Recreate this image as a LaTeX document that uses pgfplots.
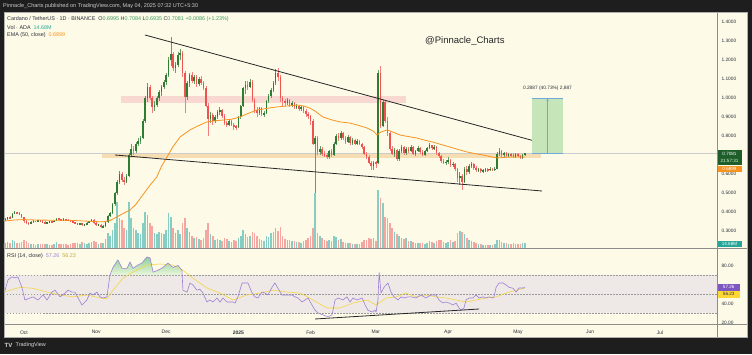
\documentclass[border=0pt]{standalone}
\usepackage{fontspec}
\setmainfont{Liberation Sans}
\usepackage{pgfplots}
\pgfplotsset{compat=1.18}
\usepackage{pgfplotstable}
\usetikzlibrary{arrows.meta}

\definecolor{frame}{HTML}{1E1E1E}
\definecolor{bgc}{HTML}{FDFBE8}
\definecolor{txt}{HTML}{2A2E39}
\definecolor{up}{HTML}{2E7D32}
\definecolor{dn}{HTML}{EF5350}
\definecolor{vup}{HTML}{86CEC3}
\definecolor{vdn}{HTML}{F6A6A1}
\definecolor{ema}{HTML}{F7931E}
\definecolor{rsic}{HTML}{9C7FD6}
\definecolor{rsima}{HTML}{F5D547}
\definecolor{band}{HTML}{EEE8E6}
\definecolor{pinkz}{HTML}{F9D3CF}
\definecolor{orz}{HTML}{F6D9A9}
\definecolor{legg}{HTML}{3D9B5C}
\definecolor{sep}{HTML}{8C8C8C}
\definecolor{boxg}{HTML}{C6E5B8}
\definecolor{boxb}{HTML}{6FA8DC}
\definecolor{obtop}{HTML}{8FD19A}
\definecolor{obbot}{HTML}{EAF5DC}
\definecolor{tealc}{HTML}{26A69A}
\definecolor{dgreen}{HTML}{1E5E2A}
\definecolor{purp}{HTML}{7E57C2}
\definecolor{yel}{HTML}{FDD835}

\pgfplotsset{candle/.style={only marks, mark=*, mark size=0pt,
  mark options={draw=none, fill=none}, restrict x to domain=-20:400}}

\pgfplotstableread{
d o h l c v
-9 .355 .362 .350 .357 12
-8 .357 .368 .353 .365 15
-7 .365 .376 .360 .372 18
-6 .372 .378 .364 .368 14
-5 .368 .396 .366 .392 24
-4 .392 .405 .388 .398 21
-3 .398 .402 .389 .395 15
-2 .395 .399 .383 .388 14
-1 .388 .392 .366 .372 18
0 .372 .376 .344 .350 24
1 .350 .356 .336 .342 21
2 .342 .348 .334 .340 15
3 .340 .352 .337 .348 12
4 .348 .356 .344 .352 11
5 .352 .355 .345 .350 10
6 .350 .360 .347 .356 12
7 .356 .360 .349 .352 11
8 .352 .356 .342 .346 12
9 .346 .350 .337 .341 13
10 .341 .349 .338 .346 11
11 .346 .353 .343 .350 10
12 .350 .354 .344 .347 9
13 .347 .358 .345 .355 12
14 .355 .369 .352 .365 18
15 .365 .368 .358 .362 13
16 .362 .365 .354 .358 12
17 .358 .366 .355 .362 12
18 .362 .365 .354 .358 11
19 .358 .361 .352 .356 10
20 .356 .359 .348 .352 12
21 .352 .355 .340 .345 16
22 .345 .349 .336 .340 15
23 .340 .344 .331 .336 14
24 .336 .343 .333 .340 13
25 .340 .343 .328 .332 18
26 .332 .339 .329 .336 14
27 .336 .345 .333 .342 13
28 .342 .355 .340 .352 15
29 .352 .364 .349 .360 18
30 .360 .362 .339 .344 20
31 .344 .348 .327 .330 18
32 .330 .337 .326 .334 12
33 .334 .337 .318 .322 14
34 .322 .330 .318 .325 16
35 .325 .349 .322 .345 27
36 .345 .385 .340 .380 45
37 .380 .400 .372 .395 36
38 .395 .445 .390 .440 54
39 .440 .505 .432 .500 75
40 .500 .570 .490 .560 138
41 .560 .615 .545 .600 90
42 .600 .610 .560 .570 84
43 .570 .585 .540 .560 60
44 .560 .600 .550 .590 54
45 .590 .710 .585 .700 138
46 .700 .760 .690 .730 90
47 .730 .745 .700 .720 60
48 .720 .770 .712 .760 54
49 .760 .790 .745 .775 45
50 .775 .800 .760 .790 42
51 .790 .890 .785 .880 75
52 .880 1.010 .870 1.000 108
53 1.000 1.080 .980 1.060 99
54 1.060 1.070 .990 1.000 75
55 1.000 1.010 .920 .950 66
56 .950 .985 .930 .965 45
57 .965 1.010 .955 1.000 42
58 1.000 1.040 .985 1.030 48
59 1.030 1.070 1.010 1.060 45
60 1.060 1.095 1.045 1.085 42
61 1.085 1.130 1.070 1.120 54
62 1.120 1.215 1.110 1.200 105
63 1.200 1.320 1.170 1.230 93
64 1.230 1.240 1.140 1.160 60
65 1.160 1.190 1.130 1.175 45
66 1.175 1.240 1.165 1.225 54
67 1.225 1.260 1.200 1.235 42
68 1.235 1.245 1.110 1.130 75
69 1.130 1.140 .920 1.005 90
70 1.005 1.090 .990 1.080 60
71 1.080 1.130 1.060 1.120 48
72 1.120 1.135 1.080 1.090 36
73 1.090 1.120 1.075 1.110 30
74 1.110 1.120 1.060 1.075 33
75 1.075 1.110 1.065 1.100 27
76 1.100 1.115 1.070 1.080 24
77 1.080 1.090 1.040 1.055 30
78 1.055 1.065 .950 .960 54
79 .960 .975 .800 .890 75
80 .890 .925 .870 .910 42
81 .910 .920 .860 .880 36
82 .880 .910 .870 .900 24
83 .900 .935 .890 .925 27
84 .925 .950 .910 .935 24
85 .935 .940 .895 .905 21
86 .905 .915 .860 .870 30
87 .870 .880 .845 .860 27
88 .860 .890 .855 .880 21
89 .880 .885 .850 .860 18
90 .860 .870 .830 .850 24
91 .850 .860 .830 .845 21
92 .845 .905 .840 .900 30
93 .900 .965 .890 .960 36
94 .960 1.060 .950 1.050 54
95 1.050 1.090 1.020 1.070 42
96 1.070 1.090 1.040 1.060 33
97 1.060 1.100 1.050 1.085 36
98 1.085 1.095 .980 .990 48
99 .990 1.000 .920 .935 45
100 .935 .950 .900 .920 36
101 .920 .955 .910 .945 27
102 .945 .950 .905 .915 24
103 .915 .930 .900 .920 21
104 .920 .990 .915 .985 36
105 .985 1.020 .975 1.010 33
106 1.010 1.050 1.000 1.040 45
107 1.040 1.090 1.030 1.080 48
108 1.080 1.150 1.070 1.130 60
109 1.130 1.160 1.090 1.110 51
110 1.110 1.120 .980 1.000 63
111 1.000 1.010 .960 .985 36
112 .985 .995 .960 .975 27
113 .975 1.000 .965 .990 24
114 .990 .995 .950 .965 24
115 .965 .985 .955 .975 21
116 .975 .980 .940 .950 21
117 .950 .970 .940 .960 18
118 .960 .965 .930 .940 18
119 .940 .960 .930 .955 15
120 .955 .960 .920 .930 21
121 .930 .940 .900 .915 24
122 .915 .925 .890 .905 30
123 .905 .910 .860 .880 36
124 .880 .890 .750 .760 60
125 .760 .800 .500 .790 165
126 .790 .800 .700 .715 45
127 .715 .745 .700 .730 36
128 .730 .740 .695 .705 30
129 .705 .720 .690 .700 24
130 .700 .710 .680 .690 21
131 .690 .725 .680 .720 24
132 .720 .730 .690 .700 21
133 .700 .770 .695 .760 36
134 .760 .810 .750 .800 33
135 .800 .815 .775 .790 24
136 .790 .825 .780 .815 27
137 .815 .820 .780 .790 18
138 .790 .800 .760 .770 15
139 .770 .805 .765 .795 15
140 .795 .800 .755 .765 15
141 .765 .790 .755 .780 12
142 .780 .785 .750 .760 12
143 .760 .785 .755 .775 12
144 .775 .780 .750 .760 12
145 .760 .765 .730 .740 18
146 .740 .745 .700 .705 24
147 .705 .715 .680 .690 24
148 .690 .700 .650 .660 30
149 .660 .670 .620 .640 27
150 .640 .670 .620 .660 30
151 .660 .670 .630 .658 21
152 .658 1.147 .650 1.130 174
153 1.130 1.170 .840 .850 150
154 .850 .990 .845 .980 135
155 .980 .990 .870 .880 93
156 .880 .900 .800 .815 90
157 .815 .820 .720 .730 75
158 .730 .745 .700 .705 60
159 .705 .735 .690 .725 48
160 .725 .730 .670 .680 42
161 .680 .730 .670 .720 36
162 .720 .750 .710 .740 30
163 .740 .745 .700 .710 27
164 .710 .740 .700 .730 30
165 .730 .740 .710 .720 21
166 .720 .750 .715 .740 21
167 .740 .745 .700 .705 18
168 .705 .725 .695 .720 15
169 .720 .745 .715 .735 15
170 .735 .740 .705 .715 15
171 .715 .725 .695 .700 15
172 .700 .725 .695 .720 12
173 .720 .740 .715 .735 15
174 .735 .765 .730 .750 21
175 .750 .755 .725 .735 18
176 .735 .750 .725 .740 15
177 .740 .745 .700 .710 21
178 .710 .715 .685 .695 24
179 .695 .700 .660 .670 24
180 .670 .680 .650 .660 18
181 .660 .675 .645 .665 15
182 .665 .690 .655 .675 18
183 .675 .680 .635 .645 24
184 .645 .665 .635 .655 18
185 .655 .660 .615 .625 21
186 .625 .630 .560 .580 45
187 .580 .610 .540 .590 51
188 .590 .600 .516 .560 48
189 .560 .635 .550 .625 42
190 .625 .640 .595 .610 30
191 .610 .650 .600 .640 24
192 .640 .665 .630 .655 21
193 .655 .660 .620 .630 18
194 .630 .640 .610 .620 15
195 .620 .632 .610 .625 12
196 .625 .630 .605 .615 12
197 .615 .625 .605 .618 9
198 .618 .632 .610 .625 9
199 .625 .630 .612 .620 9
200 .620 .635 .615 .628 9
201 .628 .632 .615 .622 9
202 .622 .635 .615 .628 12
203 .628 .715 .625 .705 24
204 .705 .735 .695 .720 24
205 .720 .728 .690 .700 18
206 .700 .718 .692 .710 15
207 .710 .715 .688 .695 15
208 .695 .712 .690 .705 12
209 .705 .712 .692 .700 12
210 .700 .708 .682 .690 15
211 .690 .712 .685 .705 12
212 .705 .712 .688 .695 12
213 .695 .700 .678 .685 12
214 .685 .705 .680 .6995 15
215 .6995 .7084 .6935 .7081 14.68
}\ohlc

\pgfplotstableread{
d e
-8.6 .352
-4 .358
0 .360
5 .358
10 .357
15 .357
20 .356
25 .353
30 .350
34 .348
37 .356
40 .375
43 .395
45.5 .41
48 .44
51 .49
54 .54
57 .584
59 .64
61.4 .69
64 .745
67 .795
71.2 .832
75 .855
78.5 .874
82 .88
85.4 .884
89 .888
92.7 .90
96 .918
100 .937
104 .945
108.6 .953
113 .958
117.2 .963
120 .958
122.7 .947
125 .93
128.3 .90
132 .885
135.6 .874
139.9 .868
143 .858
147.2 .842
150 .825
151.5 .805
153 .82
155.8 .832
158 .822
161.4 .805
165 .797
168.7 .789
172 .778
175.5 .768
179 .755
182.8 .742
186 .73
190.1 .716
194 .706
197 .70
200 .692
203 .684
206 .687
208.6 .689
212 .69
215 .6899
}\ematab

\pgfplotstableread{
d r
-8.6 52
-8.15 54
-6.9 64.7
-5.2 68
-3.9 67
-2.6 68
-0.9 57
0.4 43.7
2.6 45.8
3.9 47
6.0 43.7
8.2 49
9.9 43.7
12.0 52
13.3 54
15.5 47
17.6 51
18.9 54
20.6 52
21.9 52
23.2 45.8
24.9 38.4
27.0 43.7
28.3 51
29.6 49
31.3 52
32.6 47
33.9 45.8
35.6 47
36.9 70
38.2 78
40.3 86
42.1 77
44.2 77
45.5 83.7
46.8 77
48.9 80.5
50.6 82.6
52.8 89
54.1 88
55.4 73
57.5 75
59.7 78
61.8 82.6
63.9 78
66.1 80
67.8 75
68.2 54
70.0 52
71.2 61.6
72.5 59.5
74.2 54
75.5 55
76.8 51
78.5 41.6
79.8 43.7
81.1 41.6
82.8 45.8
84.1 41.6
85.4 45.8
87.1 41.6
88.4 41.6
89.7 41.6
90.6 40.5
91.8 47
93.6 61.6
94.8 61.6
96.1 61.6
97.9 51
99.1 47
100.4 45.8
102.1 52
103.4 51
104.7 49
106.4 57
107.7 61.6
109.0 56
110.7 49
112.9 49
115.0 49
116.3 47
117.6 45.8
119.3 41.6
120.6 43.7
121.9 45.8
123.6 38.4
124.9 33
126.2 30
128.3 28
130.5 26
132.2 28
133.5 43.7
134.8 45.8
136.9 43.7
138.6 47
139.9 41.6
141.2 45.8
142.9 43.7
145.1 45.8
146.4 38.4
147.6 33
149.4 31
150.6 33
151.1 31
151.9 43.7
152.4 73
153.2 51
154.5 57
156.2 61.6
157.5 52
158.8 47
160.5 43.7
161.8 47
163.1 45.8
164.8 47
166.1 47
168.2 45.8
170.4 49
172.5 45.8
174.7 49
176.8 49
178.1 43.7
179.8 40.5
181.1 41.6
182.4 40.5
184.1 38.4
185.4 40.5
186.7 35.3
187.6 33
188.8 35.3
189.7 43.7
191.0 45.8
192.7 45.8
194.0 49
195.3 45.8
197.0 47
198.3 45.8
199.6 47
201.3 45.8
201.7 47
202.6 57
203.9 61.6
205.6 61.6
206.9 59.5
208.2 57
209.9 56
211.2 52
212.4 56.3
214.2 56.3
215 57.26
}\rsitab

\pgfplotstableread{
d m
-8.6 52
-6.0 54
-1.7 57
3.9 56
9.9 52
15.5 49
21.0 47
27.0 49
32.6 45.8
35.6 45
38.2 54
42.5 66.8
46.8 73
52.8 80.5
58.4 81.6
63.9 80.5
68.2 75
72.5 66.8
78.5 56.3
84.1 51
89.7 43.7
95.7 49
101.3 51
106.9 54
112.9 52
118.5 51
124.0 43.7
130.0 35.3
135.6 35.3
141.2 40.5
147.2 43.7
151.1 38.4
155.4 45.8
159.7 47
163.9 51
168.2 47
172.5 49
176.8 47
181.1 45.8
185.4 43.7
189.7 41.6
194.0 43.7
198.3 45.8
202.6 47
206.9 51
211.2 54
215 56.23
}\matab

\begin{document}
\begin{tikzpicture}[x=1pt,y=1pt]
\useasboundingbox (0,0) rectangle (752,354);
\fill[frame] (0,0) rectangle (752,354);
\fill[bgc] (4,17) rectangle (747,342);

% ---------- volume ----------
\begin{axis}[at={(4pt,106pt)}, anchor=south west, width=713pt, height=236pt,
  scale only axis, xmin=-8.58, xmax=297.4, ymin=0, ymax=708,
  axis line style={draw=none}, xtick=\empty, ytick=\empty]
\addplot[candle,
  error bars/.cd, y dir=both, y explicit, error mark=none,
  error bar style={vup, line width=1.6pt}]
  table[x expr={\thisrow{c}>=\thisrow{o} ? \thisrow{d} : -100},
        y expr={\thisrow{v}/2}, y error expr={\thisrow{v}/2}] {\ohlc};
\addplot[candle,
  error bars/.cd, y dir=both, y explicit, error mark=none,
  error bar style={vdn, line width=1.6pt}]
  table[x expr={\thisrow{c}<\thisrow{o} ? \thisrow{d} : -100},
        y expr={\thisrow{v}/2}, y error expr={\thisrow{v}/2}] {\ohlc};
\end{axis}

% ---------- price ----------
\begin{axis}[at={(4pt,106pt)}, anchor=south west, width=713pt, height=236pt,
  scale only axis, xmin=-8.58, xmax=297.4, ymin=0.2105, ymax=1.4526,
  axis line style={draw=none}, xtick=\empty, major tick length=0pt,
  ytick={0.3,0.4,0.5,0.6,0.8,0.9,1.0,1.1,1.2,1.3,1.4},
  yticklabel pos=right,
  /pgf/number format/assume math mode=true,
  yticklabel={\pgfmathprintnumber[fixed,fixed zerofill,precision=4]{\tick}},
  yticklabel style={font=\fontsize{4.8}{5}\selectfont, text=txt, anchor=west, xshift=1pt}]
\fill[pinkz, opacity=0.85] (axis cs:41.6,0.975) rectangle (axis cs:164,1.012);
\fill[orz, opacity=0.85] (axis cs:33.3,0.684) rectangle (axis cs:221.9,0.71);
\draw[black!20, line width=0.4pt] (axis cs:-8.58,0.7081) -- (axis cs:297.4,0.7081);
\addplot[candle,
  error bars/.cd, y dir=both, y explicit, error mark=none,
  error bar style={up!75, line width=0.5pt}]
  table[x expr={\thisrow{c}>=\thisrow{o} ? \thisrow{d} : -100},
        y expr={(\thisrow{h}+\thisrow{l})/2}, y error expr={(\thisrow{h}-\thisrow{l})/2}] {\ohlc};
\addplot[candle,
  error bars/.cd, y dir=both, y explicit, error mark=none,
  error bar style={dn!75, line width=0.5pt}]
  table[x expr={\thisrow{c}<\thisrow{o} ? \thisrow{d} : -100},
        y expr={(\thisrow{h}+\thisrow{l})/2}, y error expr={(\thisrow{h}-\thisrow{l})/2}] {\ohlc};
\addplot[candle,
  error bars/.cd, y dir=both, y explicit, error mark=none,
  error bar style={up, line width=1.6pt}]
  table[x expr={\thisrow{c}>=\thisrow{o} ? \thisrow{d} : -100},
        y expr={(\thisrow{o}+\thisrow{c})/2}, y error expr={max(abs(\thisrow{c}-\thisrow{o})/2,0.0025)}] {\ohlc};
\addplot[candle,
  error bars/.cd, y dir=both, y explicit, error mark=none,
  error bar style={dn, line width=1.6pt}]
  table[x expr={\thisrow{c}<\thisrow{o} ? \thisrow{d} : -100},
        y expr={(\thisrow{o}+\thisrow{c})/2}, y error expr={max(abs(\thisrow{c}-\thisrow{o})/2,0.0025)}] {\ohlc};
\addplot[ema, line width=0.8pt, mark=none, line join=round] table[x=d, y=e] {\ematab};
\addplot[black!85, line width=0.8pt, mark=none] coordinates {(51.9,1.3316) (222.3,0.763)};
\addplot[black!85, line width=0.8pt, mark=none] coordinates {(39.06,0.70) (222.3,0.5105)};
\fill[boxg] (axis cs:218,0.7081) rectangle (axis cs:231.3,0.9968);
\draw[boxb, line width=0.7pt] (axis cs:218,0.7081) -- (axis cs:231.3,0.7081);
\draw[boxb, line width=0.7pt] (axis cs:218,0.9968) -- (axis cs:231.3,0.9968);
\draw[boxb, line width=0.6pt, -{Stealth[length=2.5pt,width=2.5pt]}] (axis cs:224.65,0.7081) -- (axis cs:224.65,0.9968);
\node[font=\fontsize{4.8}{5}\selectfont, text=txt] at (axis cs:224.65,1.052) {0.2887 (40.73\%) 2,887};
\end{axis}

% ---------- RSI ----------
\begin{axis}[at={(4pt,30pt)}, anchor=south west, width=713pt, height=76pt,
  scale only axis, xmin=-8.58, xmax=297.4, ymin=18.42, ymax=98.42,
  axis line style={draw=none}, major tick length=0pt,
  ytick={20,40,80}, yticklabel pos=right,
  /pgf/number format/assume math mode=true,
  yticklabel={\pgfmathprintnumber[fixed,fixed zerofill,precision=2]{\tick}},
  yticklabel style={font=\fontsize{4.8}{5}\selectfont, text=txt, anchor=west, xshift=1pt},
  xtick={0,31,61,92,123,151,182,212,243,273},
  xticklabels={Oct,Nov,Dec,\textbf{2025},Feb,Mar,Apr,May,Jun,Jul},
  xticklabel style={font=\fontsize{5}{6}\selectfont, text=txt, yshift=-3pt}]
\fill[band] (axis cs:-8.58,30) rectangle (axis cs:297.4,70);
\draw[black!40, dash pattern=on 1.5pt off 1.5pt, line width=0.4pt] (axis cs:-8.58,70) -- (axis cs:297.4,70);
\draw[black!40, dash pattern=on 1.5pt off 1.5pt, line width=0.4pt] (axis cs:-8.58,50) -- (axis cs:297.4,50);
\draw[black!40, dash pattern=on 1.5pt off 1.5pt, line width=0.4pt] (axis cs:-8.58,30) -- (axis cs:297.4,30);
\addplot[draw=none, top color=obtop, bottom color=obbot, mark=none] coordinates {
(36.9,70) (38.2,78) (40.3,86) (42.1,77) (44.2,77) (45.5,83.7) (46.8,77) (48.9,80.5)
(50.6,82.6) (52.8,89) (54.1,88) (55.4,73) (57.5,75) (59.7,78) (61.8,82.6) (63.9,78)
(66.1,80) (67.8,75) (67.9,70)} -- cycle;
\addplot[rsima, line width=0.6pt, mark=none] table[x=d, y=m] {\matab};
\addplot[rsic, line width=0.6pt, mark=none, line join=round] table[x=d, y=r] {\rsitab};
\addplot[black!85, line width=0.8pt, mark=none] coordinates {(124.9,23.7) (195.3,34.2)};
\end{axis}

\draw[sep, line width=0.8pt] (4,106) -- (747,106);
\draw[sep, line width=0.8pt] (4,30) -- (747,30);
\draw[sep, line width=0.8pt] (717,17) -- (717,342);
\draw[sep!70, line width=0.5pt] (4,17) rectangle (747,342);

\node[anchor=west, font=\fontsize{5.5}{6}\selectfont, text=black!20, inner sep=0] at (3,348) {Pinnacle\_Charts published on TradingView.com, May 04, 2025 07:32 UTC+5:30};
\node[anchor=west, font=\fontsize{5.4}{6}\selectfont, text=txt, inner sep=0] at (7,334.7)
  {Cardano / TetherUS · 1D · BINANCE\ \ O\textcolor{legg}{0.6995}\ H\textcolor{legg}{0.7084}\ L\textcolor{legg}{0.6935}\ C\textcolor{legg}{0.7081}\ \textcolor{legg}{+0.0086 (+1.23\%)}};
\node[anchor=west, font=\fontsize{5.4}{6}\selectfont, text=txt, inner sep=0] at (7,326.7)
  {Vol · ADA\ \ \textcolor{tealc}{14.68M}};
\node[anchor=west, font=\fontsize{5.4}{6}\selectfont, text=txt, inner sep=0] at (7,319)
  {EMA (50, close)\ \ \textcolor{ema}{0.6899}};
\node[anchor=west, font=\fontsize{5.4}{6}\selectfont, text=txt, inner sep=0] at (7,98)
  {RSI (14, close)\ \ \textcolor{rsic}{57.26}\ \ \textcolor{rsima!80!black}{56.23}};
\node[anchor=west, font=\fontsize{9.5}{10}\selectfont, text=black!85, inner sep=0] at (425,312.5) {@Pinnacle\_Charts};

\fill[dgreen] (717.5,189) rectangle (742,204);
\node[font=\fontsize{4.6}{5}\selectfont, text=white, inner sep=0] at (729.5,200) {0.7081};
\node[font=\fontsize{4.6}{5}\selectfont, text=white!85!green, inner sep=0] at (729.5,193.3) {21:57:31};
\fill[ema] (717.5,182) rectangle (742,188.5);
\node[font=\fontsize{4.6}{5}\selectfont, text=white, inner sep=0] at (729.5,185.2) {0.6899};
\fill[tealc] (717.5,107) rectangle (742,113.5);
\node[font=\fontsize{4.6}{5}\selectfont, text=white, inner sep=0] at (729.5,110.2) {14.68M};
\fill[purp] (717.5,63.5) rectangle (740,70);
\node[font=\fontsize{4.6}{5}\selectfont, text=white, inner sep=0] at (728.7,66.7) {57.26};
\fill[yel] (717.5,56.5) rectangle (740,63);
\node[font=\fontsize{4.6}{5}\selectfont, text=txt, inner sep=0] at (728.7,59.7) {56.23};

\node[anchor=west, font=\fontsize{6}{7}\selectfont\bfseries, text=black!15, inner sep=0] at (4.5,9) {TV};
\node[anchor=west, font=\fontsize{5.5}{6}\selectfont, text=black!15, inner sep=0] at (15.5,9) {TradingView};
\end{tikzpicture}
\end{document}
